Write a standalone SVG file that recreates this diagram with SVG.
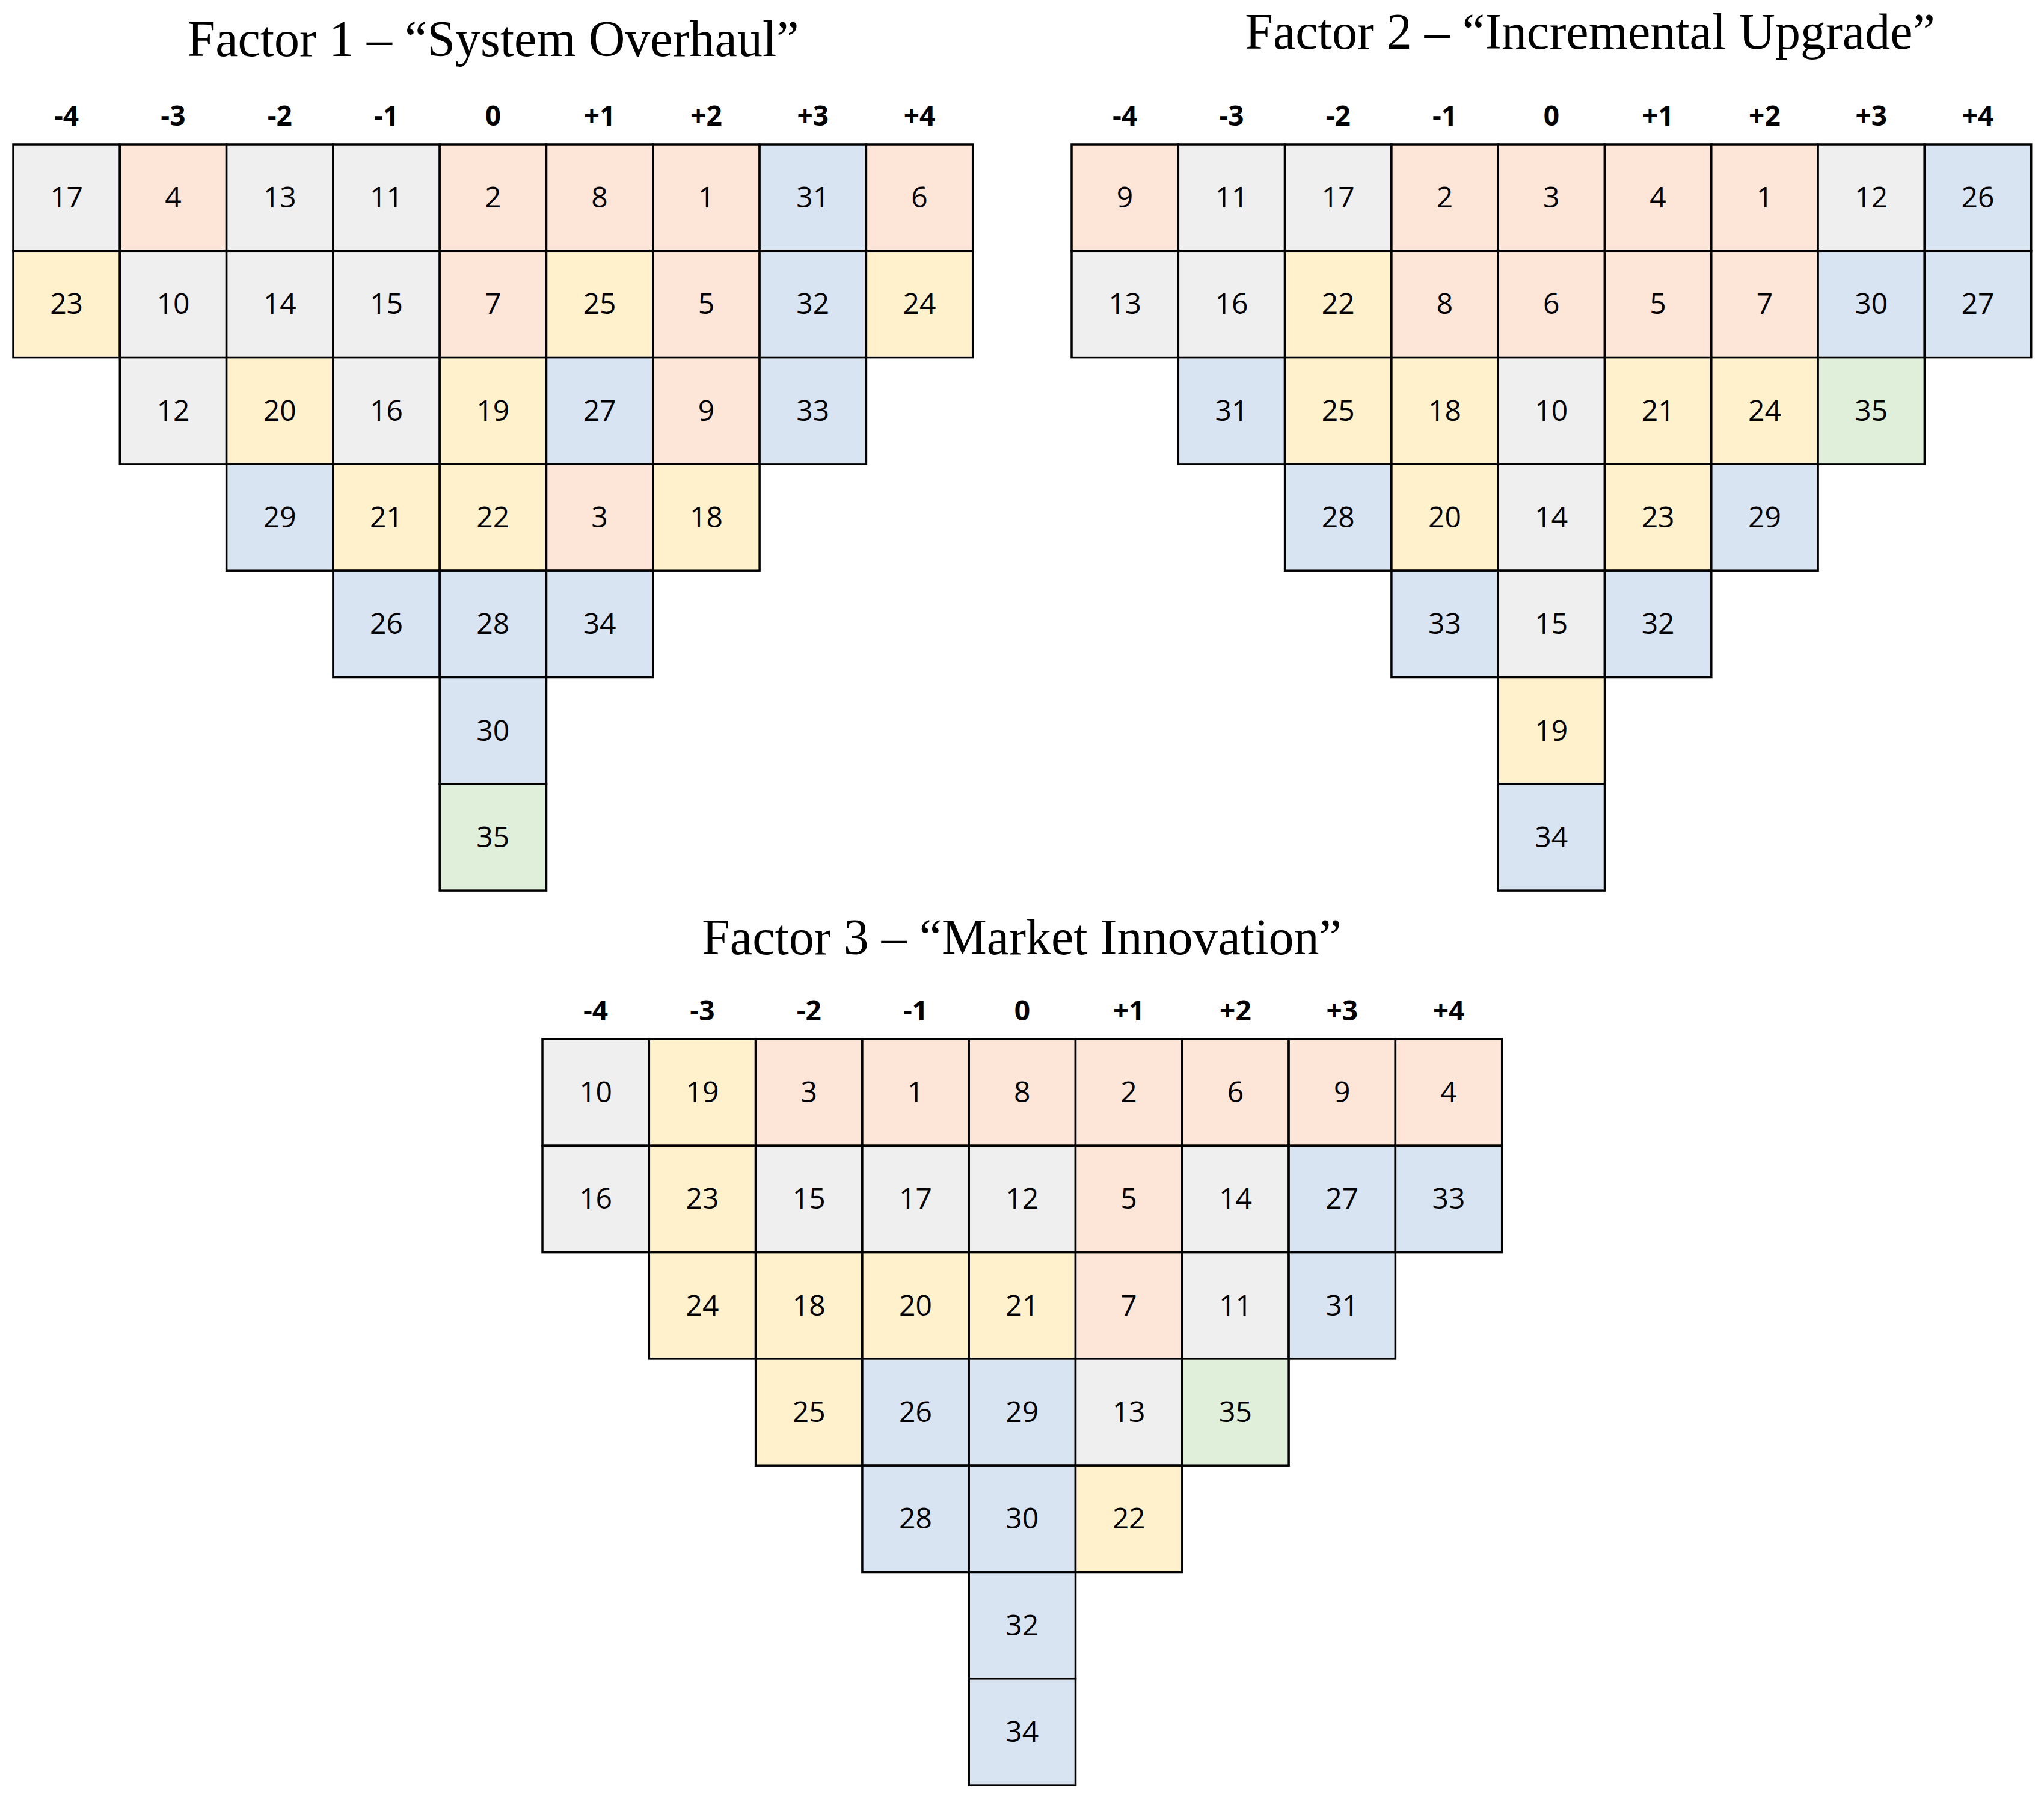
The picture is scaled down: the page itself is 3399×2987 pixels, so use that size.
<svg xmlns="http://www.w3.org/2000/svg" width="3399" height="2987" viewBox="0 0 3399 2987">
<style>
.c rect{stroke:#000;stroke-width:3.5}
.g{fill:#EFEFEF}.o{fill:#FDE6D8}.y{fill:#FFF1CC}.b{fill:#D9E4F2}.n{fill:#DFEFD9}
.t{font-family:"Liberation Serif",serif;font-size:84px;text-anchor:middle;fill:#000}
.h{font-family:"Open Sans","Noto Sans",sans-serif;font-weight:bold;font-size:46px;text-anchor:middle;fill:#000}
.v{font-family:"Open Sans","Noto Sans",sans-serif;font-size:48px;text-anchor:middle;fill:#000}
</style>
<rect width="3399" height="2987" fill="#fff"/>
<text class="t" x="820" y="93">Factor 1 – “System Overhaul”</text>
<text class="t" x="2644" y="81">Factor 2 – “Incremental Upgrade”</text>
<text class="t" x="1699" y="1587">Factor 3 – “Market Innovation”</text>
<g id="connectors"/>
<g id="factor1" class="c" transform="translate(22,240)">
<g class="h"><text x="88.6" y="-31">-4</text><text x="265.9" y="-31">-3</text><text x="443.2" y="-31">-2</text><text x="620.5" y="-31">-1</text><text x="797.8" y="-31">0</text><text x="975.1" y="-31">+1</text><text x="1152.4" y="-31">+2</text><text x="1329.7" y="-31">+3</text><text x="1507" y="-31">+4</text></g>
<g id="f1-17"><rect class="g" x="0" y="0" width="177.3" height="177.3"/><text class="v" x="88.6" y="105">17</text></g>
<g id="f1-23"><rect class="y" x="0" y="177.3" width="177.3" height="177.3"/><text class="v" x="88.6" y="282">23</text></g>
<g id="f1-4"><rect class="o" x="177.3" y="0" width="177.3" height="177.3"/><text class="v" x="265.9" y="105">4</text></g>
<g id="f1-10"><rect class="g" x="177.3" y="177.3" width="177.3" height="177.3"/><text class="v" x="265.9" y="282">10</text></g>
<g id="f1-12"><rect class="g" x="177.3" y="354.6" width="177.3" height="177.3"/><text class="v" x="265.9" y="460">12</text></g>
<g id="f1-13"><rect class="g" x="354.6" y="0" width="177.3" height="177.3"/><text class="v" x="443.2" y="105">13</text></g>
<g id="f1-14"><rect class="g" x="354.6" y="177.3" width="177.3" height="177.3"/><text class="v" x="443.2" y="282">14</text></g>
<g id="f1-20"><rect class="y" x="354.6" y="354.6" width="177.3" height="177.3"/><text class="v" x="443.2" y="460">20</text></g>
<g id="f1-29"><rect class="b" x="354.6" y="531.9" width="177.3" height="177.3"/><text class="v" x="443.2" y="637">29</text></g>
<g id="f1-11"><rect class="g" x="531.9" y="0" width="177.3" height="177.3"/><text class="v" x="620.5" y="105">11</text></g>
<g id="f1-15"><rect class="g" x="531.9" y="177.3" width="177.3" height="177.3"/><text class="v" x="620.5" y="282">15</text></g>
<g id="f1-16"><rect class="g" x="531.9" y="354.6" width="177.3" height="177.3"/><text class="v" x="620.5" y="460">16</text></g>
<g id="f1-21"><rect class="y" x="531.9" y="531.9" width="177.3" height="177.3"/><text class="v" x="620.5" y="637">21</text></g>
<g id="f1-26"><rect class="b" x="531.9" y="709.2" width="177.3" height="177.3"/><text class="v" x="620.5" y="814">26</text></g>
<g id="f1-2"><rect class="o" x="709.2" y="0" width="177.3" height="177.3"/><text class="v" x="797.8" y="105">2</text></g>
<g id="f1-7"><rect class="o" x="709.2" y="177.3" width="177.3" height="177.3"/><text class="v" x="797.8" y="282">7</text></g>
<g id="f1-19"><rect class="y" x="709.2" y="354.6" width="177.3" height="177.3"/><text class="v" x="797.8" y="460">19</text></g>
<g id="f1-22"><rect class="y" x="709.2" y="531.9" width="177.3" height="177.3"/><text class="v" x="797.8" y="637">22</text></g>
<g id="f1-28"><rect class="b" x="709.2" y="709.2" width="177.3" height="177.3"/><text class="v" x="797.8" y="814">28</text></g>
<g id="f1-30"><rect class="b" x="709.2" y="886.5" width="177.3" height="177.3"/><text class="v" x="797.8" y="992">30</text></g>
<g id="f1-35"><rect class="n" x="709.2" y="1063.8" width="177.3" height="177.3"/><text class="v" x="797.8" y="1169">35</text></g>
<g id="f1-8"><rect class="o" x="886.5" y="0" width="177.3" height="177.3"/><text class="v" x="975.1" y="105">8</text></g>
<g id="f1-25"><rect class="y" x="886.5" y="177.3" width="177.3" height="177.3"/><text class="v" x="975.1" y="282">25</text></g>
<g id="f1-27"><rect class="b" x="886.5" y="354.6" width="177.3" height="177.3"/><text class="v" x="975.1" y="460">27</text></g>
<g id="f1-3"><rect class="o" x="886.5" y="531.9" width="177.3" height="177.3"/><text class="v" x="975.1" y="637">3</text></g>
<g id="f1-34"><rect class="b" x="886.5" y="709.2" width="177.3" height="177.3"/><text class="v" x="975.1" y="814">34</text></g>
<g id="f1-1"><rect class="o" x="1063.8" y="0" width="177.3" height="177.3"/><text class="v" x="1152.4" y="105">1</text></g>
<g id="f1-5"><rect class="o" x="1063.8" y="177.3" width="177.3" height="177.3"/><text class="v" x="1152.4" y="282">5</text></g>
<g id="f1-9"><rect class="o" x="1063.8" y="354.6" width="177.3" height="177.3"/><text class="v" x="1152.4" y="460">9</text></g>
<g id="f1-18"><rect class="y" x="1063.8" y="531.9" width="177.3" height="177.3"/><text class="v" x="1152.4" y="637">18</text></g>
<g id="f1-31"><rect class="b" x="1241.1" y="0" width="177.3" height="177.3"/><text class="v" x="1329.7" y="105">31</text></g>
<g id="f1-32"><rect class="b" x="1241.1" y="177.3" width="177.3" height="177.3"/><text class="v" x="1329.7" y="282">32</text></g>
<g id="f1-33"><rect class="b" x="1241.1" y="354.6" width="177.3" height="177.3"/><text class="v" x="1329.7" y="460">33</text></g>
<g id="f1-6"><rect class="o" x="1418.4" y="0" width="177.3" height="177.3"/><text class="v" x="1507" y="105">6</text></g>
<g id="f1-24"><rect class="y" x="1418.4" y="177.3" width="177.3" height="177.3"/><text class="v" x="1507" y="282">24</text></g>
</g>
<g id="factor2" class="c" transform="translate(1782,240)">
<g class="h"><text x="88.6" y="-31">-4</text><text x="265.9" y="-31">-3</text><text x="443.2" y="-31">-2</text><text x="620.5" y="-31">-1</text><text x="797.8" y="-31">0</text><text x="975.1" y="-31">+1</text><text x="1152.4" y="-31">+2</text><text x="1329.7" y="-31">+3</text><text x="1507" y="-31">+4</text></g>
<g id="f2-9"><rect class="o" x="0" y="0" width="177.3" height="177.3"/><text class="v" x="88.6" y="105">9</text></g>
<g id="f2-13"><rect class="g" x="0" y="177.3" width="177.3" height="177.3"/><text class="v" x="88.6" y="282">13</text></g>
<g id="f2-11"><rect class="g" x="177.3" y="0" width="177.3" height="177.3"/><text class="v" x="265.9" y="105">11</text></g>
<g id="f2-16"><rect class="g" x="177.3" y="177.3" width="177.3" height="177.3"/><text class="v" x="265.9" y="282">16</text></g>
<g id="f2-31"><rect class="b" x="177.3" y="354.6" width="177.3" height="177.3"/><text class="v" x="265.9" y="460">31</text></g>
<g id="f2-17"><rect class="g" x="354.6" y="0" width="177.3" height="177.3"/><text class="v" x="443.2" y="105">17</text></g>
<g id="f2-22"><rect class="y" x="354.6" y="177.3" width="177.3" height="177.3"/><text class="v" x="443.2" y="282">22</text></g>
<g id="f2-25"><rect class="y" x="354.6" y="354.6" width="177.3" height="177.3"/><text class="v" x="443.2" y="460">25</text></g>
<g id="f2-28"><rect class="b" x="354.6" y="531.9" width="177.3" height="177.3"/><text class="v" x="443.2" y="637">28</text></g>
<g id="f2-2"><rect class="o" x="531.9" y="0" width="177.3" height="177.3"/><text class="v" x="620.5" y="105">2</text></g>
<g id="f2-8"><rect class="o" x="531.9" y="177.3" width="177.3" height="177.3"/><text class="v" x="620.5" y="282">8</text></g>
<g id="f2-18"><rect class="y" x="531.9" y="354.6" width="177.3" height="177.3"/><text class="v" x="620.5" y="460">18</text></g>
<g id="f2-20"><rect class="y" x="531.9" y="531.9" width="177.3" height="177.3"/><text class="v" x="620.5" y="637">20</text></g>
<g id="f2-33"><rect class="b" x="531.9" y="709.2" width="177.3" height="177.3"/><text class="v" x="620.5" y="814">33</text></g>
<g id="f2-3"><rect class="o" x="709.2" y="0" width="177.3" height="177.3"/><text class="v" x="797.8" y="105">3</text></g>
<g id="f2-6"><rect class="o" x="709.2" y="177.3" width="177.3" height="177.3"/><text class="v" x="797.8" y="282">6</text></g>
<g id="f2-10"><rect class="g" x="709.2" y="354.6" width="177.3" height="177.3"/><text class="v" x="797.8" y="460">10</text></g>
<g id="f2-14"><rect class="g" x="709.2" y="531.9" width="177.3" height="177.3"/><text class="v" x="797.8" y="637">14</text></g>
<g id="f2-15"><rect class="g" x="709.2" y="709.2" width="177.3" height="177.3"/><text class="v" x="797.8" y="814">15</text></g>
<g id="f2-19"><rect class="y" x="709.2" y="886.5" width="177.3" height="177.3"/><text class="v" x="797.8" y="992">19</text></g>
<g id="f2-34"><rect class="b" x="709.2" y="1063.8" width="177.3" height="177.3"/><text class="v" x="797.8" y="1169">34</text></g>
<g id="f2-4"><rect class="o" x="886.5" y="0" width="177.3" height="177.3"/><text class="v" x="975.1" y="105">4</text></g>
<g id="f2-5"><rect class="o" x="886.5" y="177.3" width="177.3" height="177.3"/><text class="v" x="975.1" y="282">5</text></g>
<g id="f2-21"><rect class="y" x="886.5" y="354.6" width="177.3" height="177.3"/><text class="v" x="975.1" y="460">21</text></g>
<g id="f2-23"><rect class="y" x="886.5" y="531.9" width="177.3" height="177.3"/><text class="v" x="975.1" y="637">23</text></g>
<g id="f2-32"><rect class="b" x="886.5" y="709.2" width="177.3" height="177.3"/><text class="v" x="975.1" y="814">32</text></g>
<g id="f2-1"><rect class="o" x="1063.8" y="0" width="177.3" height="177.3"/><text class="v" x="1152.4" y="105">1</text></g>
<g id="f2-7"><rect class="o" x="1063.8" y="177.3" width="177.3" height="177.3"/><text class="v" x="1152.4" y="282">7</text></g>
<g id="f2-24"><rect class="y" x="1063.8" y="354.6" width="177.3" height="177.3"/><text class="v" x="1152.4" y="460">24</text></g>
<g id="f2-29"><rect class="b" x="1063.8" y="531.9" width="177.3" height="177.3"/><text class="v" x="1152.4" y="637">29</text></g>
<g id="f2-12"><rect class="g" x="1241.1" y="0" width="177.3" height="177.3"/><text class="v" x="1329.7" y="105">12</text></g>
<g id="f2-30"><rect class="b" x="1241.1" y="177.3" width="177.3" height="177.3"/><text class="v" x="1329.7" y="282">30</text></g>
<g id="f2-35"><rect class="n" x="1241.1" y="354.6" width="177.3" height="177.3"/><text class="v" x="1329.7" y="460">35</text></g>
<g id="f2-26"><rect class="b" x="1418.4" y="0" width="177.3" height="177.3"/><text class="v" x="1507" y="105">26</text></g>
<g id="f2-27"><rect class="b" x="1418.4" y="177.3" width="177.3" height="177.3"/><text class="v" x="1507" y="282">27</text></g>
</g>
<g id="factor3" class="c" transform="translate(902,1728)">
<g class="h"><text x="88.6" y="-31">-4</text><text x="265.9" y="-31">-3</text><text x="443.2" y="-31">-2</text><text x="620.5" y="-31">-1</text><text x="797.8" y="-31">0</text><text x="975.1" y="-31">+1</text><text x="1152.4" y="-31">+2</text><text x="1329.7" y="-31">+3</text><text x="1507" y="-31">+4</text></g>
<g id="f3-10"><rect class="g" x="0" y="0" width="177.3" height="177.3"/><text class="v" x="88.6" y="105">10</text></g>
<g id="f3-16"><rect class="g" x="0" y="177.3" width="177.3" height="177.3"/><text class="v" x="88.6" y="282">16</text></g>
<g id="f3-19"><rect class="y" x="177.3" y="0" width="177.3" height="177.3"/><text class="v" x="265.9" y="105">19</text></g>
<g id="f3-23"><rect class="y" x="177.3" y="177.3" width="177.3" height="177.3"/><text class="v" x="265.9" y="282">23</text></g>
<g id="f3-24"><rect class="y" x="177.3" y="354.6" width="177.3" height="177.3"/><text class="v" x="265.9" y="460">24</text></g>
<g id="f3-3"><rect class="o" x="354.6" y="0" width="177.3" height="177.3"/><text class="v" x="443.2" y="105">3</text></g>
<g id="f3-15"><rect class="g" x="354.6" y="177.3" width="177.3" height="177.3"/><text class="v" x="443.2" y="282">15</text></g>
<g id="f3-18"><rect class="y" x="354.6" y="354.6" width="177.3" height="177.3"/><text class="v" x="443.2" y="460">18</text></g>
<g id="f3-25"><rect class="y" x="354.6" y="531.9" width="177.3" height="177.3"/><text class="v" x="443.2" y="637">25</text></g>
<g id="f3-1"><rect class="o" x="531.9" y="0" width="177.3" height="177.3"/><text class="v" x="620.5" y="105">1</text></g>
<g id="f3-17"><rect class="g" x="531.9" y="177.3" width="177.3" height="177.3"/><text class="v" x="620.5" y="282">17</text></g>
<g id="f3-20"><rect class="y" x="531.9" y="354.6" width="177.3" height="177.3"/><text class="v" x="620.5" y="460">20</text></g>
<g id="f3-26"><rect class="b" x="531.9" y="531.9" width="177.3" height="177.3"/><text class="v" x="620.5" y="637">26</text></g>
<g id="f3-28"><rect class="b" x="531.9" y="709.2" width="177.3" height="177.3"/><text class="v" x="620.5" y="814">28</text></g>
<g id="f3-8"><rect class="o" x="709.2" y="0" width="177.3" height="177.3"/><text class="v" x="797.8" y="105">8</text></g>
<g id="f3-12"><rect class="g" x="709.2" y="177.3" width="177.3" height="177.3"/><text class="v" x="797.8" y="282">12</text></g>
<g id="f3-21"><rect class="y" x="709.2" y="354.6" width="177.3" height="177.3"/><text class="v" x="797.8" y="460">21</text></g>
<g id="f3-29"><rect class="b" x="709.2" y="531.9" width="177.3" height="177.3"/><text class="v" x="797.8" y="637">29</text></g>
<g id="f3-30"><rect class="b" x="709.2" y="709.2" width="177.3" height="177.3"/><text class="v" x="797.8" y="814">30</text></g>
<g id="f3-32"><rect class="b" x="709.2" y="886.5" width="177.3" height="177.3"/><text class="v" x="797.8" y="992">32</text></g>
<g id="f3-34"><rect class="b" x="709.2" y="1063.8" width="177.3" height="177.3"/><text class="v" x="797.8" y="1169">34</text></g>
<g id="f3-2"><rect class="o" x="886.5" y="0" width="177.3" height="177.3"/><text class="v" x="975.1" y="105">2</text></g>
<g id="f3-5"><rect class="o" x="886.5" y="177.3" width="177.3" height="177.3"/><text class="v" x="975.1" y="282">5</text></g>
<g id="f3-7"><rect class="o" x="886.5" y="354.6" width="177.3" height="177.3"/><text class="v" x="975.1" y="460">7</text></g>
<g id="f3-13"><rect class="g" x="886.5" y="531.9" width="177.3" height="177.3"/><text class="v" x="975.1" y="637">13</text></g>
<g id="f3-22"><rect class="y" x="886.5" y="709.2" width="177.3" height="177.3"/><text class="v" x="975.1" y="814">22</text></g>
<g id="f3-6"><rect class="o" x="1063.8" y="0" width="177.3" height="177.3"/><text class="v" x="1152.4" y="105">6</text></g>
<g id="f3-14"><rect class="g" x="1063.8" y="177.3" width="177.3" height="177.3"/><text class="v" x="1152.4" y="282">14</text></g>
<g id="f3-11"><rect class="g" x="1063.8" y="354.6" width="177.3" height="177.3"/><text class="v" x="1152.4" y="460">11</text></g>
<g id="f3-35"><rect class="n" x="1063.8" y="531.9" width="177.3" height="177.3"/><text class="v" x="1152.4" y="637">35</text></g>
<g id="f3-9"><rect class="o" x="1241.1" y="0" width="177.3" height="177.3"/><text class="v" x="1329.7" y="105">9</text></g>
<g id="f3-27"><rect class="b" x="1241.1" y="177.3" width="177.3" height="177.3"/><text class="v" x="1329.7" y="282">27</text></g>
<g id="f3-31"><rect class="b" x="1241.1" y="354.6" width="177.3" height="177.3"/><text class="v" x="1329.7" y="460">31</text></g>
<g id="f3-4"><rect class="o" x="1418.4" y="0" width="177.3" height="177.3"/><text class="v" x="1507" y="105">4</text></g>
<g id="f3-33"><rect class="b" x="1418.4" y="177.3" width="177.3" height="177.3"/><text class="v" x="1507" y="282">33</text></g>
</g>
</svg>
